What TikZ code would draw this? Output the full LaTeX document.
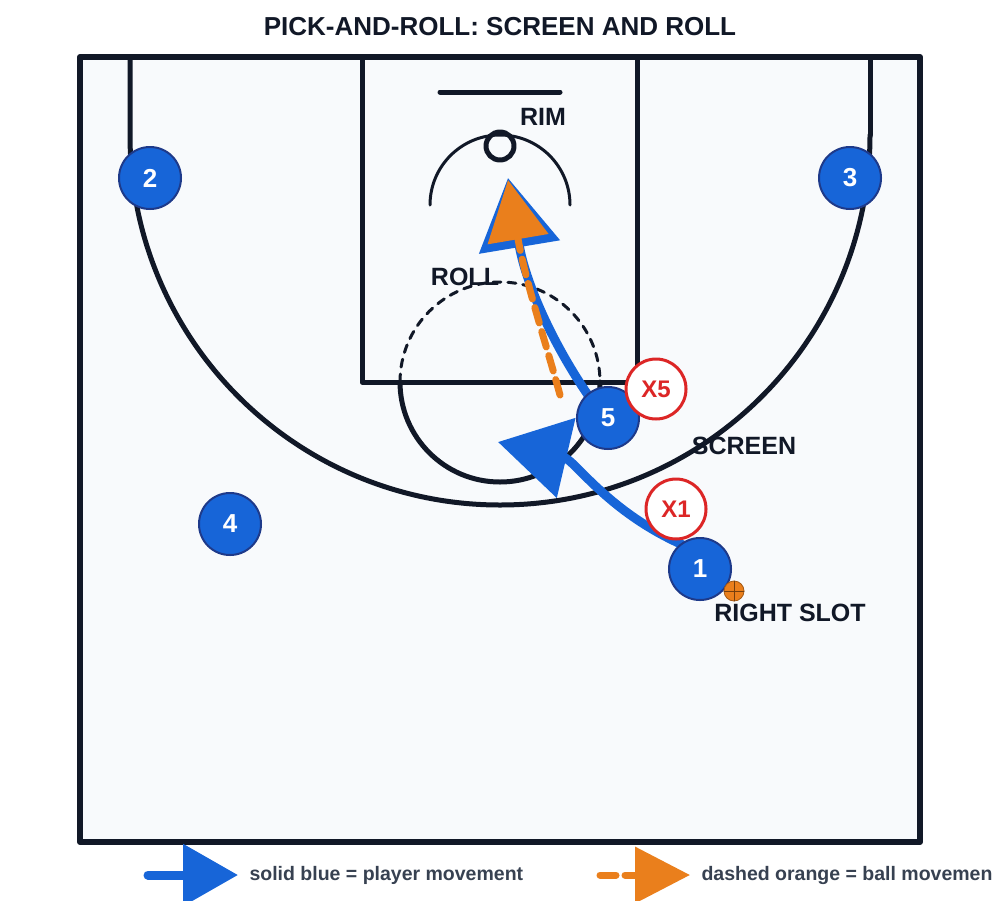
\documentclass[tikz,border=0pt]{standalone}
\usepackage{fontspec}
\setmainfont{Liberation Sans}
\usepackage{tikz}
\usetikzlibrary{calc,arrows.meta}
\definecolor{courtline}{HTML}{111827}
\definecolor{courtfill}{HTML}{F8FAFC}
\definecolor{offblue}{HTML}{1765D8}
\definecolor{offedge}{HTML}{1E3A8A}
\definecolor{defred}{HTML}{DC2626}
\definecolor{ballorg}{HTML}{EA7F1C}
\definecolor{legtext}{HTML}{374151}
\tikzset{
  offense/.style={circle,draw=offedge,fill=offblue,line width=2pt,minimum size=62pt,inner sep=0pt,text=white,font=\bfseries\fontsize{26}{26}\selectfont},
  defense/.style={circle,draw=defred,fill=white,line width=3pt,minimum size=60pt,inner sep=0pt,text=defred,font=\bfseries\fontsize{24}{24}\selectfont},
  lbl/.style={text=courtline,font=\bfseries\fontsize{25}{25}\selectfont},
  playermove/.style={draw=offblue,line width=9pt,-{Triangle[length=70pt,width=80pt]}},
  ballmove/.style={draw=ballorg,line width=7pt,dash pattern=on 16pt off 9pt,-{Triangle[length=60pt,width=60pt]}}
}
\begin{document}
\begin{tikzpicture}[line cap=round,line join=round,x=1pt,y=-1pt]
        \useasboundingbox (0,0) rectangle (1000,900);
        \fill[white] (0,0) rectangle (1000,900);
        % court
        \draw[line width=6pt,draw=courtline,fill=courtfill] (80,57) rectangle (920,842);
        \begin{scope}[draw=courtline,line width=5pt]
            \draw (130,57) -- (130,135) arc[start angle=180,end angle=0,radius=370];
            \draw (870,57) -- (870,135);
            \draw (362,57) rectangle (637,382);
            \draw (400,382) arc[start angle=180,end angle=0,radius=100];
            \draw[line width=3pt,dash pattern=on 8pt off 7pt] (400,382) arc[start angle=180,end angle=360,radius=100];
            \draw (440,92) -- (560,92);
            \draw[line width=3pt] (430,205) arc[start angle=180,end angle=360,radius=70];
            \draw[line width=5pt] (500,146) circle (14);
        \end{scope}
        \node[font=\bfseries\fontsize{26}{26}\selectfont,text=courtline] (title) at (500,27) {PICK-AND-ROLL: SCREEN AND ROLL};
        % labels
        \node[lbl] (rim) at (543,117) {RIM};
        \node[lbl] (roll) at (465,277) {ROLL};
        \node[lbl] (screen) at (744,446) {SCREEN};
        \node[lbl] (slot) at (790,613) {RIGHT SLOT};
        % movement
        \coordinate (rolltip) at (508,178);
        \coordinate (cuttip) at (498,442);
        \coordinate (passfrom) at (560,395);
        \coordinate (passtip) at (508,180);
        \draw[playermove] (690,548) .. controls (610,515) and (575,460) .. (cuttip);
        \draw[playermove] (590,398) .. controls (550,340) and (525,280) .. (rolltip);
        \draw[ballmove] (passfrom) .. controls (545,340) and (525,280) .. (passtip);
        % players
        \node[offense] (p2) at (150,178) {2};
        \node[offense] (p3) at (850,178) {3};
        \node[offense] (p4) at (230,524) {4};
        \node[offense] (p5) at (608,418) {5};
        \node[offense] (p1) at (700,569) {1};
        \node[defense] (x5) at (656,389) {X5};
        \node[defense] (x1) at (676,509) {X1};
        % ball
        \draw[fill=ballorg,draw=ballorg!70!black,line width=0.8pt] (734,591) circle (10);
        \draw[draw=ballorg!50!black,line width=0.8pt] (724,591) -- (744,591) (734,581) -- (734,601);
        % legend
        \coordinate (lb1) at (148,875);
        \coordinate (lb2) at (238,875);
        \coordinate (lo1) at (600,875);
        \coordinate (lo2) at (690,875);
        \draw[draw=offblue,line width=9pt,-{Triangle[length=55pt,width=60pt]}] (lb1) -- (lb2);
        \draw[ballmove,-{Triangle[length=55pt,width=55pt]}] (lo1) -- (lo2);
        \node[anchor=west,text=legtext,font=\bfseries\fontsize{19.5}{20}\selectfont] (legb) at (246,875) {solid blue = player movement};
        \node[anchor=west,text=legtext,font=\bfseries\fontsize{19.5}{20}\selectfont] (lego) at (698,875) {dashed orange = ball movemen};
\end{tikzpicture}
\end{document}
